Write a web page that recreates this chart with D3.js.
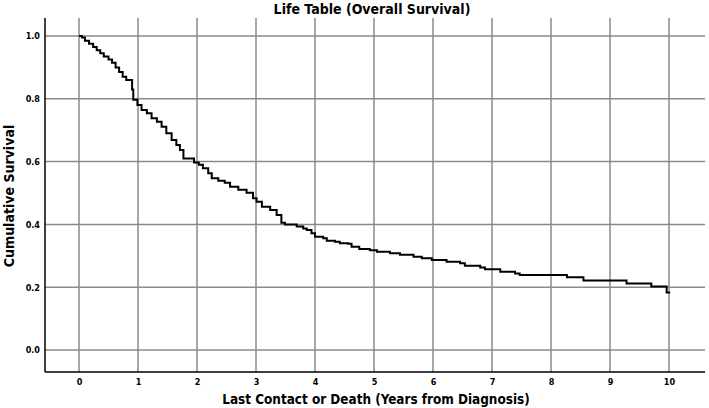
<!DOCTYPE html>
<html><head><meta charset="utf-8">
<script src="https://cdn.jsdelivr.net/npm/d3@7"></script>
<style>body{margin:0;background:#fff}svg{display:block}</style>
</head><body>
<script>
const times = [0,0.05,0.10,0.17,0.24,0.30,0.36,0.42,0.50,0.56,0.62,0.68,0.74,0.80,0.90,0.92,0.99,
 1.06,1.15,1.23,1.32,1.40,1.48,1.57,1.65,1.71,1.77,1.95,2.03,2.10,2.19,2.25,2.36,2.47,2.56,2.70,2.84,2.95,
 3.01,3.10,3.24,3.35,3.43,3.49,3.69,3.80,3.86,3.94,4.00,4.14,4.20,4.34,4.42,4.56,4.62,4.75,4.93,
 5.05,5.27,5.44,5.67,5.81,5.98,6.23,6.46,6.54,6.80,6.88,7.14,7.39,7.47,8.27,8.55,9.28,9.70,9.96,10.02];
const survival = [1.0,0.995,0.985,0.975,0.965,0.955,0.945,0.935,0.925,0.915,0.90,0.885,0.87,0.86,0.83,0.797,0.78,
 0.764,0.754,0.738,0.727,0.711,0.69,0.669,0.653,0.637,0.61,0.597,0.59,0.579,0.563,0.547,0.539,0.533,0.52,0.51,0.501,0.483,
 0.472,0.456,0.446,0.43,0.405,0.40,0.393,0.387,0.382,0.372,0.361,0.356,0.348,0.345,0.34,0.338,0.329,0.322,0.318,
 0.313,0.308,0.303,0.297,0.292,0.287,0.281,0.276,0.268,0.263,0.257,0.249,0.244,0.239,0.232,0.221,0.212,0.202,0.183,0.183];
const xTicks = [0,1,2,3,4,5,6,7,8,9,10];
const yTicks = [0.0,0.2,0.4,0.6,0.8,1.0];
const title = "Life Table (Overall Survival)";
const xTitle = "Last Contact or Death (Years from Diagnosis)";
const yTitle = "Cumulative Survival";

const W = 709, H = 408;
const pL = 45, pR = 705, pT = 18, pB = 372;
const x = d3.scaleLinear().domain([0,10]).range([79,669]);
const y = d3.scaleLinear().domain([0,1]).range([350,36]);
const font = "'DejaVu Sans Condensed','Liberation Sans Narrow',sans-serif";

const svg = d3.select("body").append("svg").attr("width",W).attr("height",H);

const grid = svg.append("g").attr("stroke","#8a8a8a").attr("stroke-width",1.5);
grid.selectAll("line.h").data(yTicks).join("line").attr("class","h")
  .attr("x1",pL).attr("x2",pR).attr("y1",d=>y(d)).attr("y2",d=>y(d));
grid.selectAll("line.v").data(xTicks).join("line").attr("class","v")
  .attr("y1",pT).attr("y2",pB).attr("x1",d=>x(d)).attr("x2",d=>x(d));

const xAxis = d3.axisBottom(x).tickValues(xTicks).tickSize(0).tickPadding(7).tickFormat(d3.format("d"));
const gx = svg.append("g").attr("transform",`translate(0,${pB})`).call(xAxis);
gx.select(".domain").remove();
gx.selectAll("text").attr("font-family",font).attr("font-weight","bold").attr("font-size",9).attr("fill","#000");
const yAxis = d3.axisLeft(y).tickValues(yTicks).tickSize(0).tickPadding(5).tickFormat(d3.format(".1f"));
const gy = svg.append("g").attr("transform",`translate(${pL},0)`).call(yAxis);
gy.select(".domain").remove();
gy.selectAll("text").attr("font-family",font).attr("font-weight","bold").attr("font-size",9).attr("fill","#000");

svg.append("line").attr("x1",pL).attr("x2",pL).attr("y1",pT).attr("y2",pB).attr("stroke","#000").attr("stroke-width",1.5);
svg.append("line").attr("x1",pL).attr("x2",pR).attr("y1",pB).attr("y2",pB).attr("stroke","#000").attr("stroke-width",1.5);

const data = times.map((t,i)=>({t, s: survival[i]}));
const line = d3.line().x(d=>x(d.t)).y(d=>y(d.s)).curve(d3.curveStepAfter);
svg.append("path").datum(data).attr("d",line).attr("fill","none").attr("stroke","#000").attr("stroke-width",2);

svg.append("text").attr("x",372).attr("y",14).attr("text-anchor","middle")
  .attr("font-family",font).attr("font-weight","bold").attr("font-size",14).text(title);
svg.append("text").attr("x",376).attr("y",404).attr("text-anchor","middle")
  .attr("font-family",font).attr("font-weight","bold").attr("font-size",13.4).text(xTitle);
svg.append("text").attr("transform",`translate(14,${(pT+pB)/2 + 1}) rotate(-90)`).attr("text-anchor","middle")
  .attr("font-family",font).attr("font-weight","bold").attr("font-size",14).text(yTitle);
</script>
</body></html>
